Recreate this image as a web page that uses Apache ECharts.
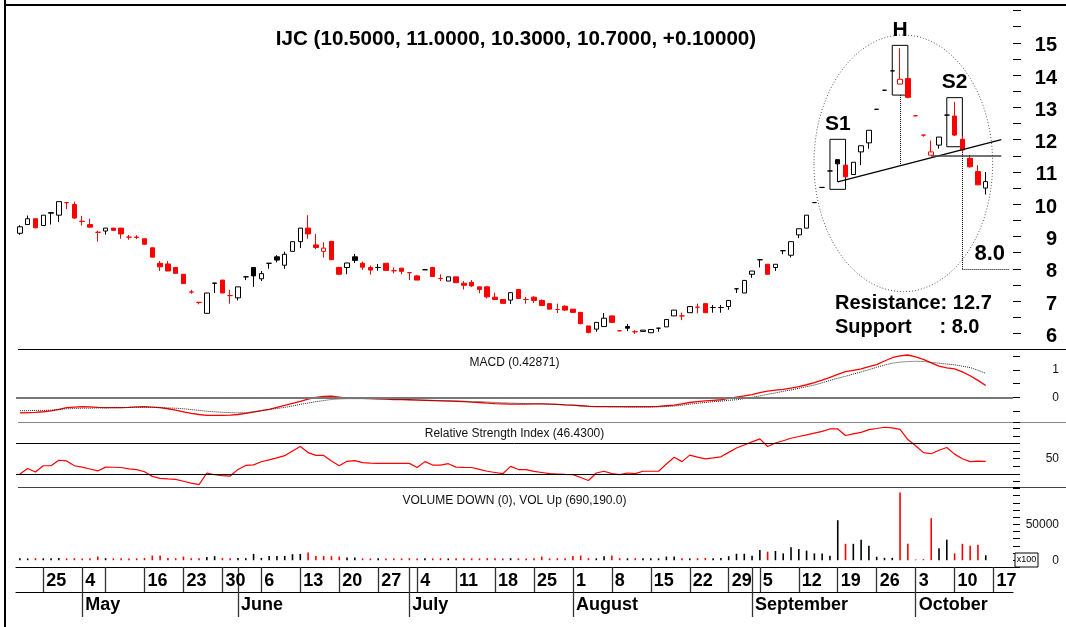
<!DOCTYPE html>
<html>
<head>
<meta charset="utf-8">
<title>IJC</title>
<script src="https://cdn.jsdelivr.net/npm/echarts@6/dist/echarts.min.js"></script>
<style>
  html, body { margin: 0; padding: 0; background: #fff; }
  #chart { width: 1066px; height: 627px; }
</style>
</head>
<body>
<div id="chart"></div>
<script>
// trading days (3 empty slots at the end)
const dates = ['04-20','04-21','04-22','04-25','04-26','04-27','04-28','04-29','05-04','05-05','05-06','05-09','05-10','05-11','05-12','05-13','05-16','05-17','05-18','05-19','05-20','05-23','05-24','05-25','05-26','05-27','05-30','05-31','06-01','06-02','06-03','06-06','06-07','06-08','06-09','06-10','06-13','06-14','06-15','06-16','06-17','06-20','06-21','06-22','06-23','06-24','06-27','06-28','06-29','06-30','07-01','07-04','07-05','07-06','07-07','07-08','07-11','07-12','07-13','07-14','07-15','07-18','07-19','07-20','07-21','07-22','07-25','07-26','07-27','07-28','07-29','08-01','08-02','08-03','08-04','08-05','08-08','08-09','08-10','08-11','08-12','08-15','08-16','08-17','08-18','08-19','08-22','08-23','08-24','08-25','08-26','08-29','08-30','08-31','09-01','09-05','09-06','09-07','09-08','09-09','09-12','09-13','09-14','09-15','09-16','09-19','09-20','09-21','09-22','09-23','09-26','09-27','09-28','09-29','09-30','10-03','10-04','10-05','10-06','10-07','10-10','10-11','10-12','10-13','10-14','10-17','10-18','10-19'];

const opens = [9.10,9.37,9.55,9.34,9.72,9.66,10.05,9.99,9.47,9.37,
  9.13,9.17,9.26,9.26,8.98,8.98,8.93,8.65,8.17,8.15,
  8.04,7.83,7.28,6.96,6.62,7.55,7.65,7.17,7.10,7.75,
  8.04,7.69,8.17,8.37,8.11,8.54,8.84,9.26,8.74,8.54,
  8.85,8.04,8.04,8.37,8.17,8.04,8.04,8.17,7.94,8.02,
  7.88,7.78,7.97,8.04,7.70,7.62,7.75,7.55,7.58,7.44,
  7.44,7.12,7.05,7.03,7.36,7.05,7.12,7.02,6.92,6.74,
  6.84,6.75,6.65,6.23,6.13,6.21,6.54,6.08,6.21,6.05,
  6.06,6.02,6.16,6.20,6.54,6.54,6.64,6.81,6.92,6.80,
  6.80,6.83,7.38,7.25,7.83,8.28,8.14,8.04,8.56,8.42,
  9.05,9.26,10.05,10.52,11.03,11.38,11.21,10.92,11.62,11.90,
  12.94,13.53,14.13,13.72,13.89,12.74,12.14,11.52,11.83,12.76,
  12.73,12.01,11.42,11.01,10.50];
const highs = [9.35,9.65,9.55,9.66,9.75,10.08,10.06,10.08,9.64,9.55,
  9.18,9.26,9.26,9.26,9.05,9.04,8.93,8.65,8.24,8.24,
  8.04,7.83,7.35,6.97,7.25,7.56,7.65,7.35,7.44,7.77,
  8.04,7.93,8.17,8.42,8.53,8.84,9.26,9.66,9.08,8.82,
  8.85,8.06,8.18,8.46,8.22,8.10,8.15,8.17,8.04,8.02,
  7.88,7.80,7.99,8.04,7.83,7.75,7.75,7.62,7.65,7.44,
  7.47,7.26,7.05,7.26,7.36,7.13,7.15,7.05,6.92,6.92,
  6.87,6.75,6.65,6.23,6.34,6.63,6.54,6.09,6.29,6.10,
  6.10,6.12,6.17,6.43,6.72,6.64,6.83,6.92,6.92,6.88,
  6.88,7.02,7.39,7.64,7.93,8.29,8.14,8.14,8.57,8.84,
  9.24,9.66,10.06,10.53,11.04,11.38,11.21,11.30,11.81,12.29,
  12.95,13.54,14.14,14.83,13.89,12.76,12.15,11.97,12.08,12.77,
  13.17,12.11,11.52,11.21,11.00];
const lows = [9.05,9.37,9.25,9.34,9.37,9.45,9.85,9.55,9.34,9.28,
  8.84,9.06,9.18,8.93,8.90,8.92,8.74,8.36,7.93,7.93,
  7.86,7.54,7.23,6.90,6.62,7.25,7.25,6.92,7.02,7.65,
  7.44,7.62,8.00,8.20,8.00,8.54,8.64,8.93,8.61,8.35,
  8.28,7.83,7.83,8.18,7.97,7.82,7.94,7.95,7.86,7.83,
  7.65,7.65,7.97,7.76,7.62,7.62,7.57,7.36,7.44,7.24,
  7.08,7.03,6.93,6.91,7.08,6.92,6.94,6.86,6.75,6.63,
  6.70,6.65,6.28,6.00,6.05,6.21,6.34,6.06,6.07,5.98,
  6.06,6.02,6.05,6.20,6.54,6.41,6.64,6.62,6.64,6.64,
  6.64,6.73,7.25,7.25,7.72,8.04,7.83,7.93,8.45,8.35,
  8.95,9.26,10.04,10.51,11.02,10.69,10.83,10.92,11.21,11.72,
  12.93,13.52,14.12,13.72,13.28,12.72,12.09,11.52,11.72,12.75,
  12.11,11.62,11.13,10.60,10.30];
const closes = [9.30,9.55,9.27,9.66,9.74,10.08,10.05,9.57,9.47,9.29,
  9.13,9.26,9.19,9.08,8.98,8.97,8.76,8.36,8.06,7.93,
  7.86,7.54,7.28,6.96,7.25,7.56,7.25,7.17,7.44,7.75,
  7.78,7.85,8.17,8.27,8.45,8.84,9.26,9.08,8.66,8.64,
  8.28,7.83,8.18,8.26,8.05,7.96,8.04,7.95,7.94,7.92,
  7.88,7.65,7.97,7.76,7.70,7.75,7.57,7.49,7.47,7.36,
  7.13,7.05,6.93,7.26,7.08,7.05,7.02,6.86,6.75,6.74,
  6.72,6.65,6.30,6.03,6.34,6.47,6.34,6.08,6.16,6.05,
  6.10,6.12,6.16,6.43,6.72,6.54,6.83,6.81,6.64,6.80,
  6.80,7.02,7.38,7.64,7.93,8.28,7.83,8.14,8.56,8.84,
  9.24,9.66,10.05,10.52,11.03,11.25,10.85,11.30,11.81,12.29,
  12.94,13.53,14.13,13.87,13.31,12.74,12.14,11.62,12.08,12.76,
  12.14,11.68,11.16,10.60,10.70];
// volume in hundreds of shares
const volumes = [2800,2500,2800,2600,2800,3000,2600,2800,2400,2600,
  5100,2800,2600,2800,2500,2600,3000,6500,6500,3200,
  2800,5100,2800,2600,4600,5600,3000,2800,3000,2800,
  8800,3000,6000,6000,6000,8400,8800,10700,6000,6000,
  5600,5100,3700,3700,2600,2400,2800,2500,2600,2400,
  2800,2400,2600,2500,2800,2400,2600,2800,2500,2400,
  2800,2600,2400,2800,2600,2500,2700,5100,2600,2800,
  2600,6000,6500,2800,2600,5600,6500,2800,2600,2800,
  2600,2800,2600,5100,5100,2800,2600,2800,3000,2800,
  3000,5600,9000,9000,6200,14300,11900,12900,9500,18100,
  15700,13300,9500,9500,6200,55700,22800,22800,28600,20000,
  4800,3300,3300,94200,22800,1000,1400,58500,16700,28600,
  9500,22800,20000,21400,6902];
const macd = [-0.57,-0.56,-0.55,-0.53,-0.50,-0.44,-0.38,-0.36,-0.34,-0.35,
  -0.37,-0.38,-0.38,-0.38,-0.37,-0.35,-0.34,-0.36,-0.38,-0.42,
  -0.47,-0.53,-0.59,-0.63,-0.66,-0.66,-0.66,-0.65,-0.63,-0.59,
  -0.54,-0.49,-0.44,-0.37,-0.30,-0.22,-0.15,-0.07,0.00,0.03,
  0.04,0.01,-0.03,-0.03,-0.04,-0.05,-0.06,-0.07,-0.08,-0.08,
  -0.09,-0.10,-0.11,-0.12,-0.13,-0.14,-0.15,-0.16,-0.18,-0.19,
  -0.21,-0.23,-0.24,-0.25,-0.25,-0.25,-0.24,-0.24,-0.25,-0.26,
  -0.28,-0.29,-0.31,-0.33,-0.34,-0.34,-0.34,-0.34,-0.34,-0.34,
  -0.34,-0.34,-0.33,-0.31,-0.29,-0.24,-0.19,-0.16,-0.13,-0.11,
  -0.09,-0.04,0.01,0.05,0.10,0.17,0.23,0.26,0.29,0.34,
  0.39,0.46,0.54,0.63,0.73,0.84,0.94,0.99,1.04,1.12,
  1.20,1.33,1.45,1.52,1.55,1.48,1.39,1.26,1.14,1.08,
  1.04,0.93,0.79,0.62,0.43];
const signal = [-0.49,-0.49,-0.48,-0.48,-0.47,-0.45,-0.42,-0.41,-0.40,-0.40,
  -0.39,-0.39,-0.38,-0.38,-0.37,-0.37,-0.37,-0.37,-0.38,-0.39,
  -0.40,-0.42,-0.45,-0.48,-0.51,-0.53,-0.55,-0.56,-0.57,-0.56,
  -0.53,-0.49,-0.45,-0.41,-0.37,-0.32,-0.26,-0.21,-0.16,-0.12,
  -0.08,-0.06,-0.05,-0.05,-0.05,-0.05,-0.06,-0.06,-0.07,-0.08,
  -0.09,-0.09,-0.10,-0.11,-0.12,-0.12,-0.13,-0.14,-0.16,-0.16,
  -0.17,-0.19,-0.20,-0.21,-0.22,-0.23,-0.24,-0.24,-0.25,-0.26,
  -0.28,-0.29,-0.31,-0.32,-0.34,-0.34,-0.35,-0.35,-0.36,-0.36,
  -0.36,-0.36,-0.35,-0.34,-0.32,-0.29,-0.25,-0.22,-0.19,-0.16,
  -0.14,-0.11,-0.09,-0.05,0.00,0.05,0.11,0.16,0.22,0.27,
  0.33,0.39,0.45,0.53,0.62,0.70,0.77,0.85,0.93,1.01,
  1.10,1.18,1.25,1.29,1.31,1.32,1.31,1.28,1.25,1.22,
  1.19,1.14,1.09,0.99,0.88];
const rsi = [30.0,37.2,32.7,40.8,40.8,48.0,47.1,40.8,39.0,36.5,
  34.0,39.0,38.8,38.5,36.7,35.8,33.0,26.9,24.2,23.5,
  23.0,20.5,18.0,16.1,31.3,29.0,28.0,27.3,36.0,41.2,
  42.0,46.0,48.5,51.0,54.0,60.0,66.0,58.0,54.3,54.3,
  47.0,40.8,46.6,47.5,44.8,44.3,43.9,43.9,43.9,43.9,
  43.9,38.5,46.2,41.7,41.7,43.5,39.0,38.7,38.5,36.0,
  33.6,32.0,30.4,39.9,35.8,35.8,33.5,32.0,30.4,30.0,
  29.5,29.1,25.5,21.5,31.3,33.6,30.5,29.1,31.3,30.4,
  33.6,33.6,33.6,43.0,52.0,46.2,54.7,52.0,49.8,51.0,
  52.5,58.3,64.0,68.0,72.0,76.0,66.0,70.5,73.5,76.7,
  79.0,81.2,83.5,85.7,88.9,88.9,80.3,82.5,84.4,88.0,
  89.5,91.1,90.2,88.4,75.0,67.0,58.0,56.5,61.0,64.6,
  56.0,50.0,46.2,46.8,46.43];

const weekLabels = [[3,'25'],[8,'4'],[11,''],[16,'16'],[21,'23'],[26,'30'],[31,'6'],[36,'13'],[41,'20'],[46,'27'],
  [51,'4'],[56,'11'],[61,'18'],[66,'25'],[71,'1'],[76,'8'],[81,'15'],[86,'22'],[91,'29'],[95,'5'],
  [100,'12'],[105,'19'],[110,'26'],[115,'3'],[120,'10'],[125,'17']];
const monthLabels = [[8,'May'],[28,'June'],[50,'July'],[71,'August'],[94,'September'],[115,'October']];

// pattern boxes: [name, fromIdx, toIdx, top, bottom]
const boxes = [['S1',104,106,12.01,10.46],['H',112,114,14.92,13.38],['S2',119,121,13.30,11.78]];
const trendLine = [[105,10.69],[126,12.0]];
const neckline = [[117,11.5],[126,11.5]];
const dropH = [[113,13.38],[113,11.19]];
const dropS2 = [[121,11.62],[121,8.0]];
const targetLine = [[121,8.0],[127,8.0]];

const RED = '#ff0000', BLACK = '#000000';
const FONT = '"Liberation Sans", Arial, sans-serif';

const colorAt = i => (i > 0 && closes[i] < closes[i - 1]) ? RED : BLACK;
const candleData = opens.map((o, i) => {
  const col = colorAt(i);
  const fill = closes[i] > o ? '#ffffff' : col;
  return {
    value: [o, closes[i], lows[i], highs[i]],
    itemStyle: { color: fill, color0: fill, borderColor: col, borderColor0: col, borderColorDoji: col }
  };
});
const volData = volumes.map((v, i) => ({ value: v, itemStyle: { color: colorAt(i) } }));

const dayMap = new Map(weekLabels);
const monthMap = new Map(monthLabels);
const dayTicks = new Set([...weekLabels.map(d => d[0]), ...monthLabels.map(d => d[0])]);

const chart = echarts.init(document.getElementById('chart'), null, { renderer: 'canvas' });
const G = { left: 16, width: 997 };
const near = (a, b) => Math.abs(a - b) < 1e-6;
const hiddenX = g => ({ type: 'category', gridIndex: g, data: dates, show: false });
const smallY = (g, opts, labelFn) => Object.assign({
  type: 'value', gridIndex: g, position: 'right', scale: false,
  axisLine: { show: false },
  axisTick: { show: true, length: 7, lineStyle: { color: '#000' } },
  splitLine: { show: false },
  axisLabel: { formatter: labelFn, align: 'right', margin: 46, fontSize: 12, color: '#111', fontFamily: FONT }
}, opts);
const seg = (pts, style, label) => [
  Object.assign({ coord: pts[0], lineStyle: style }, label ? { label } : {}),
  { coord: pts[1] }
];
const dotted = { color: '#000', width: 1, type: 'dotted' };
const dateAxis = (offset, map, ticks, margin) => ({
  type: 'category', gridIndex: 3, data: dates, position: 'bottom', offset,
  axisLine: { show: true, onZero: false, lineStyle: { color: '#000', width: 1.2 } },
  axisTick: { show: true, alignWithLabel: true, length: 25, interval: i => ticks.has(i),
    lineStyle: { color: '#333', width: 1.3 } },
  axisLabel: {
    show: true, interval: i => !!map.get(i), formatter: (v, i) => map.get(i) || '',
    align: 'left', verticalAlign: 'middle', margin, padding: [0, 0, 0, 3],
    fontSize: 18, fontWeight: 'bold', color: '#000', fontFamily: FONT
  },
  splitLine: { show: false }
});

chart.setOption({
  animation: false,
  textStyle: { fontFamily: FONT },
  grid: [
    Object.assign({ top: 5, height: 344.5 }, G),
    Object.assign({ top: 349, height: 73 }, G),
    Object.assign({ top: 422, height: 65 }, G),
    Object.assign({ top: 487, height: 80 }, G)
  ],
  xAxis: [
    hiddenX(0), hiddenX(1), hiddenX(2),
    dateAxis(0, dayMap, dayTicks, 14),
    dateAxis(25, monthMap, new Set(monthMap.keys()), 13)
  ],
  yAxis: [
    {
      type: 'value', gridIndex: 0, position: 'right', min: 5.5, max: 16.17, interval: 0.5,
      axisLine: { show: false },
      axisTick: { show: true, length: 8, lineStyle: { color: '#000' } },
      splitLine: { show: false },
      axisLabel: {
        formatter: v => (near(v, Math.round(v)) && v >= 6 && v <= 15) ? '{p|' + Math.round(v) + '}' : '',
        align: 'right', margin: 44,
        rich: { p: { padding: [6, 0, 0, 0], fontSize: 20, fontWeight: 'bold', color: '#000', fontFamily: FONT } },
        fontSize: 20, fontWeight: 'bold', color: '#000', fontFamily: FONT
      }
    },
    smallY(1, { min: -0.905, max: 1.77, splitNumber: 5 }, v => near(v, 1) ? '1' : near(v, 0) ? '0' : ''),
    smallY(2, { min: 13, max: 98, splitNumber: 8 }, v => near(v, 50) ? '50' : ''),
    smallY(3, { min: -9470, max: 101950, splitNumber: 10 }, v => near(v, 50000) ? '50000' : near(v, 0) ? '0' : '')
  ],
  series: [
    {
      type: 'candlestick', xAxisIndex: 0, yAxisIndex: 0, data: candleData, barWidth: 5,
      markArea: {
        silent: true,
        itemStyle: { color: 'rgba(0,0,0,0)', borderColor: '#000', borderWidth: 1 },
        label: { show: true, position: 'top', distance: 4, fontSize: 21, fontWeight: 'bold', color: '#000', fontFamily: FONT },
        data: boxes.map(b => [{ name: b[0], coord: [b[1], b[3]] }, { coord: [b[2], b[4]] }])
      },
      markLine: {
        silent: true, symbol: ['none', 'none'], label: { show: false },
        data: [
          seg(trendLine, { color: '#000', width: 1.3, type: 'solid' }),
          seg(neckline, { color: '#444', width: 1.5, type: 'solid' }),
          seg(dropH, dotted),
          seg(dropS2, dotted),
          seg(targetLine, dotted, {
            show: true, formatter: '8.0', position: 'insideEndTop', distance: 4,
            fontSize: 22, fontWeight: 'bold', color: '#000', fontFamily: FONT
          })
        ]
      }
    },
    {
      name: 'MACD', type: 'line', xAxisIndex: 1, yAxisIndex: 1, data: macd, symbol: 'none',
      lineStyle: { color: RED, width: 1.3 }, itemStyle: { color: RED },
      markLine: { silent: true, symbol: ['none', 'none'], label: { show: false },
        lineStyle: { color: '#777', width: 2, type: 'solid' }, data: [{ yAxis: 0 }] }
    },
    {
      name: 'Signal', type: 'line', xAxisIndex: 1, yAxisIndex: 1, data: signal, symbol: 'none',
      lineStyle: { color: '#222', width: 1, type: 'dotted' }, itemStyle: { color: '#222' }
    },
    {
      name: 'RSI', type: 'line', xAxisIndex: 2, yAxisIndex: 2, data: rsi, symbol: 'none',
      lineStyle: { color: RED, width: 1.2 }, itemStyle: { color: RED },
      markLine: { silent: true, symbol: ['none', 'none'], label: { show: false },
        lineStyle: { color: '#000', width: 1, type: 'solid' }, data: [{ yAxis: 70 }, { yAxis: 30 }] }
    },
    {
      name: 'Volume', type: 'bar', xAxisIndex: 3, yAxisIndex: 3, data: volData, barWidth: 1.6
    }
  ],
  graphic: [
    { type: 'line', shape: { x1: 5, y1: 0, x2: 5, y2: 627 }, style: { stroke: '#000', lineWidth: 2 } },
    { type: 'line', shape: { x1: 4, y1: 5, x2: 1066, y2: 5 }, style: { stroke: '#000', lineWidth: 2 } },
    { type: 'line', shape: { x1: 18, y1: 349.5, x2: 1066, y2: 349.5 }, style: { stroke: '#000', lineWidth: 1 } },
    { type: 'line', shape: { x1: 18, y1: 422.5, x2: 1066, y2: 422.5 }, style: { stroke: '#888', lineWidth: 1 } },
    { type: 'line', shape: { x1: 18, y1: 487.5, x2: 1066, y2: 487.5 }, style: { stroke: '#444', lineWidth: 1 } },
    { type: 'ellipse', shape: { cx: 903.3, cy: 163.3, rx: 89.3, ry: 128.3 },
      style: { fill: 'transparent', stroke: '#555', lineWidth: 1, lineDash: [1, 2] } },
    { type: 'text', x: 516, y: 39, style: { text: 'IJC (10.5000, 11.0000, 10.3000, 10.7000, +0.10000)',
      font: 'bold 20.6px ' + FONT, fill: '#000', align: 'center', verticalAlign: 'middle' } },
    { type: 'text', x: 835, y: 303, style: { text: 'Resistance: 12.7',
      font: 'bold 20px ' + FONT, fill: '#000', align: 'left', verticalAlign: 'middle' } },
    { type: 'text', x: 835, y: 327, style: { text: 'Support     : 8.0',
      font: 'bold 20px ' + FONT, fill: '#000', align: 'left', verticalAlign: 'middle' } },
    { type: 'text', x: 514.5, y: 363, style: { text: 'MACD (0.42871)',
      font: '12px ' + FONT, fill: '#111', align: 'center', verticalAlign: 'middle' } },
    { type: 'text', x: 514.5, y: 434, style: { text: 'Relative Strength Index (46.4300)',
      font: '12px ' + FONT, fill: '#111', align: 'center', verticalAlign: 'middle' } },
    { type: 'text', x: 514.5, y: 500.5, style: { text: 'VOLUME DOWN (0), VOL Up (690,190.0)',
      font: '12px ' + FONT, fill: '#111', align: 'center', verticalAlign: 'middle' } },
    { type: 'rect', shape: { x: 1015, y: 553, width: 23, height: 14 },
      style: { fill: '#fff', stroke: '#000', lineWidth: 1 }, z: 100 },
    { type: 'text', x: 1026.5, y: 560, z: 101, style: { text: 'x100',
      font: '9px ' + FONT, fill: '#000', align: 'center', verticalAlign: 'middle' } }
  ]
});
</script>
</body>
</html>
